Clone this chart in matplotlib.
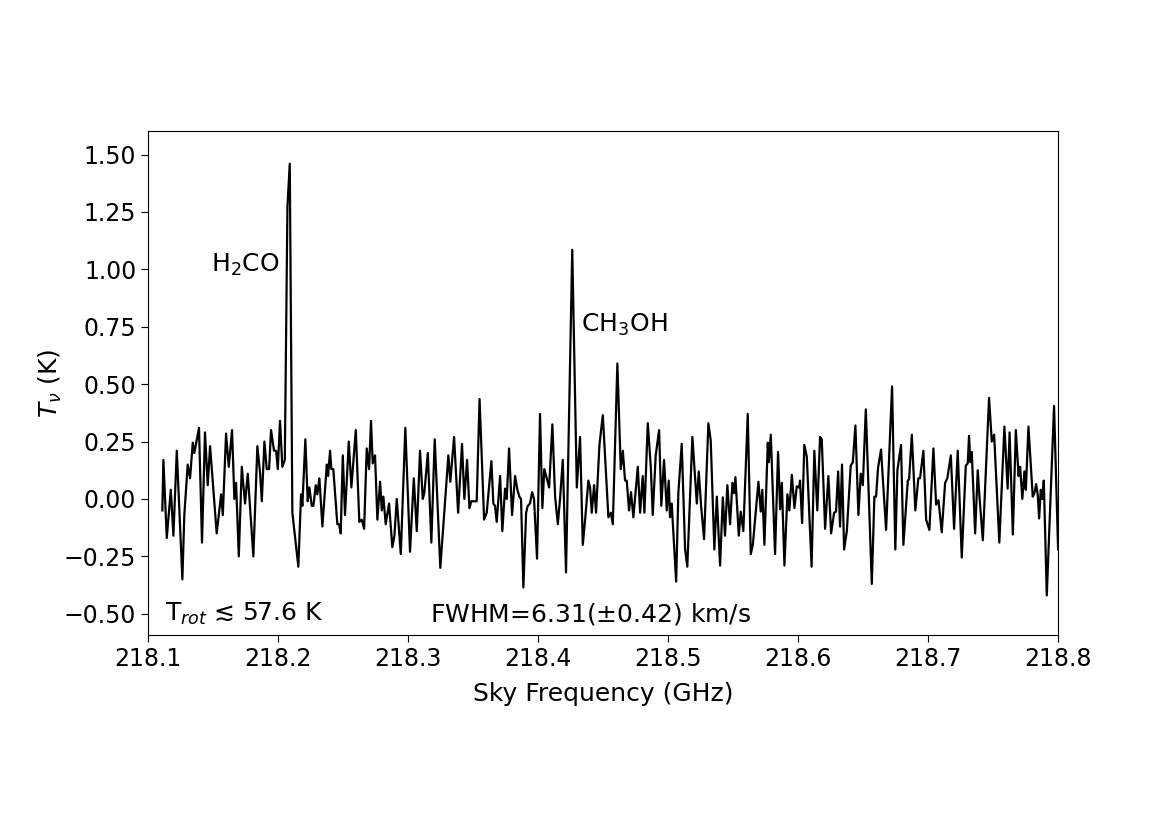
import matplotlib
matplotlib.use("Agg")
import matplotlib.pyplot as plt
from matplotlib.ticker import FormatStrFormatter

# spectrum (sky frequency in GHz, brightness temperature in K)
freq = [
    218.1110, 218.1118, 218.1144, 218.1175, 218.1195, 218.1221, 218.1264, 218.1279,
    218.1305, 218.1323, 218.1344, 218.1356, 218.1392, 218.1415, 218.1438, 218.1459,
    218.1477, 218.1528, 218.1562, 218.1575, 218.1600, 218.1621, 218.1646, 218.1664,
    218.1677, 218.1698, 218.1721, 218.1746, 218.1767, 218.1785, 218.1810, 218.1841,
    218.1862, 218.1875, 218.1895, 218.1913, 218.1931, 218.1946, 218.1969, 218.1985,
    218.1998, 218.2015, 218.2033, 218.2052, 218.2072, 218.2090, 218.2110, 218.2156,
    218.2177, 218.2187, 218.2210, 218.2228, 218.2241, 218.2259, 218.2272, 218.2290,
    218.2302, 218.2318, 218.2341, 218.2375, 218.2385, 218.2400, 218.2410, 218.2425,
    218.2456, 218.2469, 218.2482, 218.2498, 218.2515, 218.2544, 218.2564, 218.2598,
    218.2625, 218.2644, 218.2662, 218.2682, 218.2700, 218.2715, 218.2728, 218.2746,
    218.2764, 218.2785, 218.2798, 218.2810, 218.2828, 218.2854, 218.2879, 218.2895,
    218.2913, 218.2944, 218.2979, 218.3015, 218.3044, 218.3067, 218.3092, 218.3113,
    218.3125, 218.3152, 218.3179, 218.3205, 218.3248, 218.3310, 218.3325, 218.3354,
    218.3385, 218.3415, 218.3433, 218.3454, 218.3472, 218.3487, 218.3502, 218.3528,
    218.3550, 218.3585, 218.3605, 218.3641, 218.3656, 218.3669, 218.3682, 218.3708,
    218.3725, 218.3746, 218.3759, 218.3777, 218.3800, 218.3823, 218.3841, 218.3856,
    218.3869, 218.3887, 218.3908, 218.3921, 218.3938, 218.3954, 218.3969, 218.3992,
    218.4015, 218.4033, 218.4048, 218.4067, 218.4085, 218.4110, 218.4131, 218.4152,
    218.4169, 218.4190, 218.4215, 218.4263, 218.4298, 218.4323, 218.4344, 218.4362,
    218.4387, 218.4400, 218.4413, 218.4431, 218.4446, 218.4472, 218.4498, 218.4541,
    218.4560, 218.4575, 218.4610, 218.4636, 218.4652, 218.4669, 218.4682, 218.4700,
    218.4715, 218.4733, 218.4767, 218.4785, 218.4805, 218.4818, 218.4844, 218.4867,
    218.4882, 218.4905, 218.4931, 218.4948, 218.4969, 218.4990, 218.5005, 218.5015,
    218.5028, 218.5062, 218.5079, 218.5105, 218.5131, 218.5148, 218.5187, 218.5221,
    218.5236, 218.5254, 218.5277, 218.5310, 218.5328, 218.5356, 218.5375, 218.5400,
    218.5421, 218.5438, 218.5456, 218.5477, 218.5495, 218.5508, 218.5518, 218.5544,
    218.5559, 218.5579, 218.5613, 218.5636, 218.5652, 218.5695, 218.5713, 218.5725,
    218.5741, 218.5767, 218.5775, 218.5790, 218.5823, 218.5846, 218.5862, 218.5875,
    218.5895, 218.5918, 218.5933, 218.5952, 218.5972, 218.5990, 218.6008, 218.6015,
    218.6031, 218.6048, 218.6067, 218.6104, 218.6125, 218.6148, 218.6169, 218.6182,
    218.6208, 218.6233, 218.6254, 218.6277, 218.6292, 218.6308, 218.6323, 218.6338,
    218.6354, 218.6375, 218.6405, 218.6421, 218.6441, 218.6464, 218.6482, 218.6498,
    218.6521, 218.6567, 218.6587, 218.6600, 218.6615, 218.6638, 218.6652, 218.6677,
    218.6723, 218.6748, 218.6764, 218.6792, 218.6810, 218.6844, 218.6854, 218.6875,
    218.6902, 218.6925, 218.6938, 218.6964, 218.6985, 218.7010, 218.7041, 218.7062,
    218.7080, 218.7105, 218.7131, 218.7148, 218.7175, 218.7200, 218.7228, 218.7259,
    218.7290, 218.7305, 218.7315, 218.7325, 218.7336, 218.7362, 218.7382, 218.7395,
    218.7421, 218.7469, 218.7490, 218.7508, 218.7548, 218.7587, 218.7612, 218.7627,
    218.7652, 218.7675, 218.7696, 218.7708, 218.7725, 218.7741, 218.7752, 218.7772,
    218.7805, 218.7818, 218.7831, 218.7844, 218.7854, 218.7867, 218.7879, 218.7890,
    218.7913, 218.7969, 218.8000,
]
tb = [
    -0.05, 0.17, -0.17, 0.04, -0.16, 0.21, -0.35, -0.07,
    0.15, 0.09, 0.245, 0.20, 0.31, -0.19, 0.29, 0.06,
    0.23, -0.15, 0.02, -0.07, 0.285, 0.14, 0.30, 0.0,
    0.07, -0.25, 0.14, -0.02, 0.11, -0.04, -0.25, 0.23,
    0.11, -0.01, 0.25, 0.13, 0.13, 0.30, 0.21, 0.21,
    0.13, 0.34, 0.14, 0.17, 1.27, 1.46, -0.06, -0.295,
    0.02, -0.03, 0.26, -0.01, 0.05, -0.03, -0.03, 0.06,
    0.02, 0.09, -0.12, 0.15, 0.10, 0.21, 0.13, 0.13,
    -0.11, -0.11, -0.15, 0.19, -0.07, 0.25, 0.05, 0.30,
    -0.10, -0.09, -0.13, 0.22, 0.13, 0.34, 0.155, 0.19,
    -0.09, 0.075, -0.05, 0.01, -0.11, -0.02, -0.21, -0.16,
    0.0, -0.24, 0.31, -0.23, 0.09, -0.14, 0.21, 0.0,
    0.025, 0.20, -0.19, 0.26, -0.30, 0.19, 0.075, 0.27,
    -0.06, 0.24, 0.0, 0.17, -0.04, -0.01, -0.01, -0.01,
    0.435, -0.09, -0.06, 0.165, -0.02, -0.03, -0.10, 0.10,
    -0.14, 0.045, 0.0, 0.22, -0.07, 0.10, 0.04, 0.01,
    0.0, -0.385, -0.06, -0.03, -0.02, 0.03, 0.0, -0.26,
    0.37, -0.04, 0.13, 0.09, 0.05, 0.325, 0.01, -0.11,
    0.0, 0.17, -0.32, 1.085, 0.05, 0.27, -0.20, -0.09,
    0.08, 0.05, -0.06, 0.06, -0.06, 0.235, 0.365, -0.08,
    -0.06, -0.11, 0.59, 0.13, 0.21, 0.08, 0.08, -0.05,
    0.03, -0.08, 0.14, -0.06, 0.10, -0.06, 0.33, 0.14,
    -0.07, 0.19, 0.30, -0.03, 0.17, -0.05, 0.08, -0.08,
    -0.02, -0.36, 0.025, 0.24, -0.22, -0.295, 0.27, -0.02,
    0.12, -0.03, -0.175, 0.33, 0.255, -0.22, 0.01, -0.29,
    0.007, -0.16, 0.06, -0.11, 0.07, 0.025, 0.095, -0.16,
    -0.055, -0.14, 0.37, -0.24, -0.20, 0.075, -0.055, 0.04,
    -0.20, 0.245, 0.16, 0.28, -0.24, 0.205, -0.045, 0.07,
    -0.29, 0.02, -0.05, 0.105, -0.04, 0.055, 0.05, 0.08,
    -0.105, 0.235, 0.185, -0.295, 0.21, -0.05, 0.27, 0.26,
    -0.13, 0.10, -0.15, -0.06, -0.055, 0.12, -0.12, 0.15,
    -0.22, -0.14, 0.145, 0.16, 0.32, -0.07, 0.11, 0.06,
    0.39, -0.37, 0.01, 0.01, 0.135, 0.215, 0.09, -0.135,
    0.49, -0.22, 0.125, 0.235, -0.20, 0.08, 0.085, 0.28,
    -0.05, 0.09, 0.09, 0.21, -0.09, -0.135, 0.22, -0.025,
    -0.005, -0.145, 0.07, 0.09, 0.19, -0.13, 0.21, -0.255,
    0.145, 0.155, 0.275, 0.16, 0.205, -0.15, 0.125, 0.013,
    -0.18, 0.44, 0.25, 0.28, -0.19, 0.315, 0.045, 0.29,
    -0.155, 0.30, 0.10, 0.14, 0.0, 0.12, 0.04, 0.315,
    0.01, 0.025, 0.065, 0.017, -0.085, 0.04, 0.0, 0.08,
    -0.42, 0.405, -0.22,
]

xticks = [218.1, 218.2, 218.3, 218.4, 218.5, 218.6, 218.7, 218.8]
yticks = [-0.50, -0.25, 0.00, 0.25, 0.50, 0.75, 1.00, 1.25, 1.50]

fig = plt.figure(figsize=(11.75, 8.31), dpi=100)
ax = fig.add_axes([0.126, 0.236, 0.7745, 0.6065])

ax.plot(freq, tb, color="black", linewidth=1.6)

ax.set_xlim(218.1, 218.8)
ax.set_ylim(-0.592, 1.603)
ax.set_xticks(xticks)
ax.set_yticks(yticks)
ax.xaxis.set_major_formatter(FormatStrFormatter("%.1f"))
ax.set_yticklabels([f"{v:.2f}".replace("-", "\u2212") for v in yticks])
ax.tick_params(labelsize=17, length=5)

ax.set_xlabel("Sky Frequency (GHz)", fontsize=18, labelpad=8)
ax.set_ylabel(r"$T_\nu$ (K)", fontsize=18, labelpad=0)

# line labels and fit summary
ax.text(218.2015, 1.02, r"H$_2$CO", fontsize=18, ha="right", va="center")
ax.text(218.433, 0.76, r"CH$_3$OH", fontsize=18, ha="left", va="center")
ax.text(218.113, -0.50, "T$_{rot}$ \u2272 57.6 K", fontsize=18, ha="left", va="center")
ax.text(218.317, -0.50, r"FWHM=6.31($\pm$0.42) km/s", fontsize=18, ha="left", va="center")

fig.savefig("out.png", dpi=100, facecolor="white")
plt.close(fig)
